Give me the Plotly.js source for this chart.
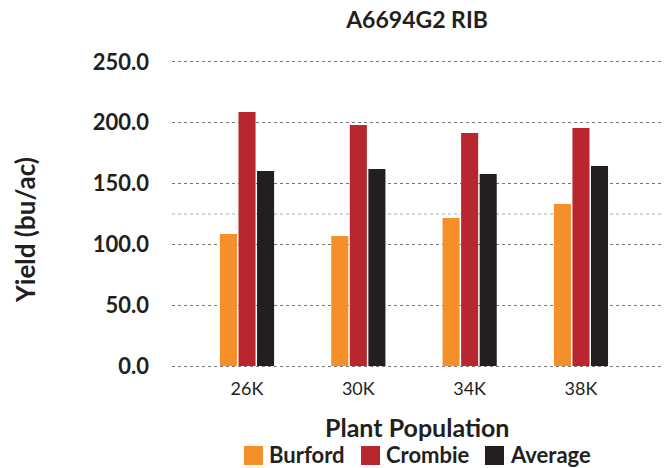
<!DOCTYPE html>
<html>
<head>
<meta charset="utf-8">
<script src="https://cdn.plot.ly/plotly-3.0.1.min.js"></script>
<style>html,body{margin:0;padding:0;background:#fff;}#chart{width:665px;height:468px;}</style>
</head>
<body>
<div id="chart"></div>
<script>
const categories = ["26K", "30K", "34K", "38K"];
const burford = [108.6, 106.9, 121.7, 133.2];
const crombie = [208.9, 198.2, 191.6, 195.7];
const average = [160.4, 162.0, 157.9, 164.5];
const seriesNames = ["Burford", "Crombie", "Average"];
const yTicks = [0, 50, 100, 150, 200, 250];
const yTickLabels = ["0.0", "50.0", "100.0", "150.0", "200.0", "250.0"];

const colors = ["#F58F29", "#B8272F", "#231F20"];
const font = "Lato, 'Open Sans', sans-serif";
const ink = "#231F20";

// plot area in pixels (slightly padded so the 0 and 250 gridlines show)
const L = 172, R = 662, T = 60, B = 368;
const px = x => (x - L) / (R - L);
const py = y => (B - y) / (B - T);

const traces = [burford, crombie, average].map((vals, i) => ({
  type: "bar",
  name: seriesNames[i],
  x: categories,
  y: vals,
  marker: {color: colors[i]},
  hoverinfo: "skip",
  showlegend: false
}));

// custom legend (large square swatches)
const legendSwatchX = [244, 361, 485];
const legendShapes = seriesNames.map((n, i) => ({
  type: "rect", xref: "paper", yref: "paper",
  x0: px(legendSwatchX[i]), x1: px(legendSwatchX[i] + 19),
  y0: py(465), y1: py(446),
  fillcolor: colors[i], line: {width: 0}
}));
const legendAnnots = seriesNames.map((n, i) => ({
  xref: "paper", yref: "paper",
  x: px(legendSwatchX[i] + 23), y: py(454),
  xanchor: "left", yanchor: "middle",
  text: "<b>" + n + "</b>", showarrow: false,
  font: {family: font, size: 22, color: ink}
}));

const layout = {
  width: 665,
  height: 468,
  margin: {l: L, r: 665 - R, t: T, b: 468 - B, autoexpand: false},
  paper_bgcolor: "#fff",
  plot_bgcolor: "#fff",
  barmode: "group",
  bargap: 0.5,
  bargroupgap: 0.08,
  showlegend: false,
  title: {
    text: "<b>A6694G2 RIB</b>",
    font: {family: font, size: 23, color: ink},
    x: 0.5, xref: "paper", xanchor: "center",
    y: 1 - 20 / 468, yref: "container", yanchor: "middle"
  },
  xaxis: {
    type: "category",
    range: [-0.674, 3.728],
    showgrid: false,
    zeroline: false,
    showline: false,
    ticks: "",
    automargin: false,
    ticklabelstandoff: 8,
    tickfont: {family: font, size: 18, color: ink}
  },
  yaxis: {
    range: [-1.6, 251.6],
    tickvals: yTicks,
    ticktext: yTickLabels,
    showgrid: true,
    gridcolor: "#777",
    griddash: "dot",
    gridwidth: 1,
    zeroline: false,
    showline: false,
    ticks: "",
    automargin: false,
    ticklabelstandoff: 22,
    tickfont: {family: font, size: 22, color: ink, weight: "bold"}
  },
  shapes: [{
    type: "line", xref: "paper", yref: "y", x0: 0, x1: 1, y0: 125, y1: 125,
    line: {color: "#aaa", width: 1, dash: "dot"}, layer: "below"
  }].concat(legendShapes),
  annotations: [
    {
      xref: "paper", yref: "paper", x: 0.5, y: py(427),
      xanchor: "center", yanchor: "middle", showarrow: false,
      text: "<b>Plant Population</b>",
      font: {family: font, size: 25, color: ink}
    },
    {
      xref: "paper", yref: "paper", x: px(25), y: py(230),
      xanchor: "center", yanchor: "middle", showarrow: false, textangle: -90,
      text: "<b>Yield (bu/ac)</b>",
      font: {family: font, size: 26, color: ink}
    }
  ].concat(legendAnnots)
};

Plotly.newPlot("chart", traces, layout, {displayModeBar: false, staticPlot: true});
</script>
</body>
</html>
